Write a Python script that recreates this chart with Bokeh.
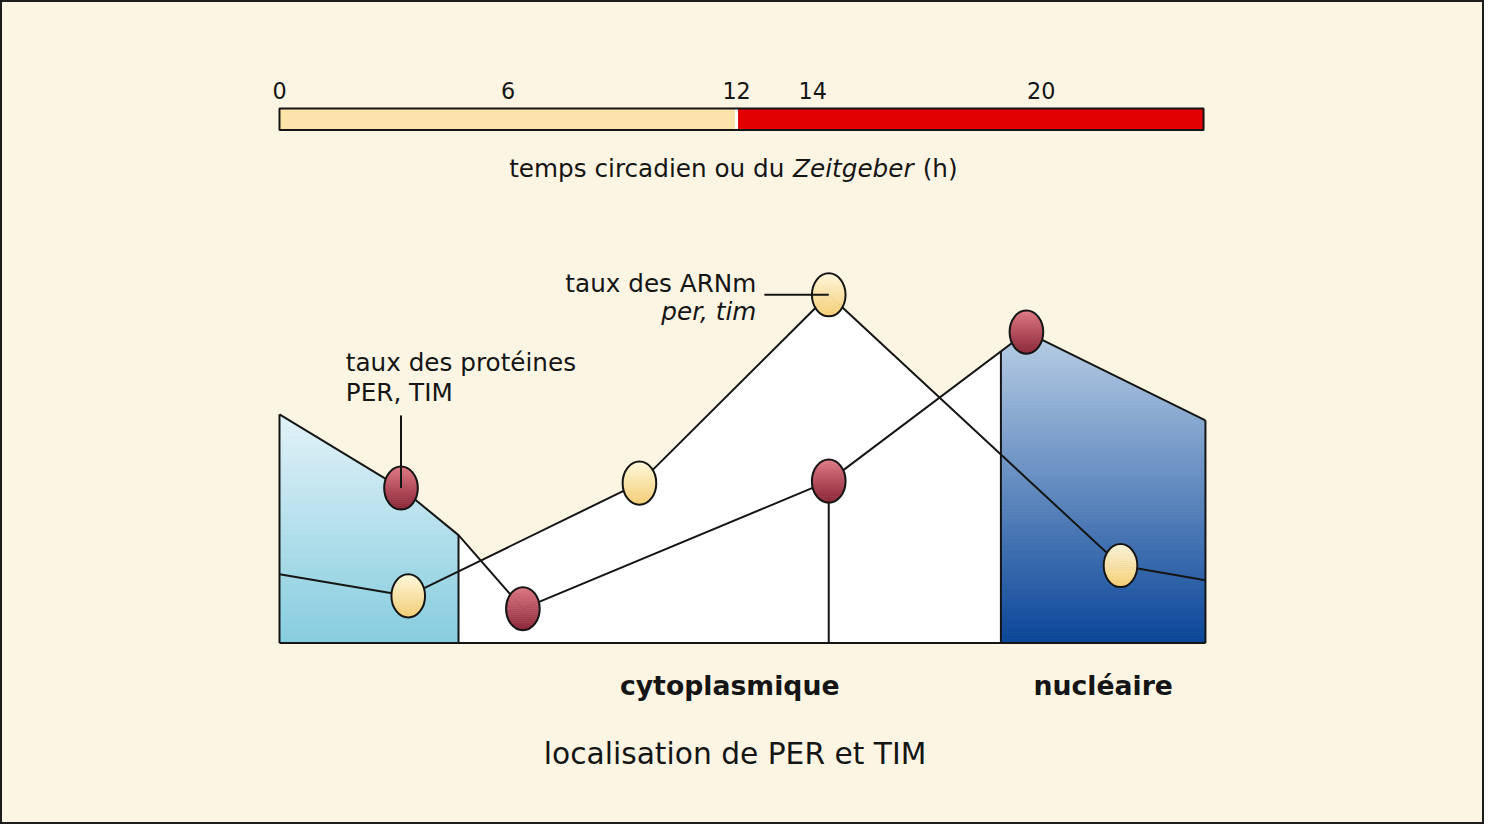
import numpy as np
from bokeh.plotting import figure
from bokeh.models import Range1d
from bokeh.embed import file_html
from bokeh.resources import INLINE
from bokeh.core.properties import value

# ---------------- data ----------------
bar_ticks = [0, 6, 12, 14, 20]
bar_tick_labels = ["0", "6", "12", "14", "20"]
day_span = [0.0, 12.0]
night_span = [12.0, 24.26]

protein_t = [0.0, 3.19, 4.70, 6.39, 14.42, 19.61, 24.31]
protein_level = [23.3, 15.8, 11.0, 3.5, 16.5, 31.7, 22.7]
protein_marker_idx = [1, 3, 4, 5]
mrna_t = [0.0, 3.38, 9.45, 14.42, 22.08, 24.31]
mrna_level = [7.0, 4.8, 16.3, 35.5, 7.9, 6.4]
mrna_marker_idx = [1, 2, 3, 4]

zone_edges = [0.0, 4.70, 18.94, 24.31]
zone_names = ["", "cytoplasmique", "nucléaire"]

# ---------------- styling / layout ----------------
W, H = 1484, 824
SX, SY = W / 1500, H / 840
BG = "#FDF5E3"
INK = "#151515"
FONT = "DejaVu Sans"


def fs(px):
    return "%.1fpx" % (px * SX)


p = figure(width=W, height=H, output_backend="svg", toolbar_location=None,
           x_range=Range1d(-282 / 38.5, (1500 - 282) / 38.5),
           y_range=Range1d(-(840 - 655) / 10.0, 655 / 10.0),
           x_axis_location=None, y_axis_location=None, min_border=0)
p.grid.visible = False
p.background_fill_color = BG
p.border_fill_color = BG
p.outline_line_color = "#1c1c1c"
p.outline_line_width = 3


def hex2rgb(c):
    c = c.lstrip("#")
    return [int(c[i:i + 2], 16) for i in (0, 2, 4)]


def lerp(c0, c1, f):
    a, b = hex2rgb(c0), hex2rgb(c1)
    return "#%02x%02x%02x" % tuple(int(round(a[i] + (b[i] - a[i]) * f)) for i in range(3))


def clip(poly, yc, keep_above):
    out = []
    n = len(poly)
    for i in range(n):
        x1, y1 = poly[i - 1]
        x2, y2 = poly[i]
        in1 = (y1 >= yc) if keep_above else (y1 <= yc)
        in2 = (y2 >= yc) if keep_above else (y2 <= yc)
        if in2:
            if not in1:
                out.append((x1 + (yc - y1) * (x2 - x1) / (y2 - y1), yc))
            out.append((x2, y2))
        elif in1:
            out.append((x1 + (yc - y1) * (x2 - x1) / (y2 - y1), yc))
    return out


def top_at(t):
    return np.maximum(np.interp(t, protein_t, protein_level), np.interp(t, mrna_t, mrna_level))


def region_polygon(t0, t1):
    xs = np.linspace(t0, t1, 500)
    extra = [t for t in protein_t + mrna_t if t0 < t < t1]
    xs = np.unique(np.concatenate([xs, extra]))
    top = top_at(xs)
    return [(t0, 0.0)] + list(zip(xs, top)) + [(t1, 0.0)]


def gradient_region(t0, t1, c_bottom, c_top, n=90):
    poly = region_polygon(t0, t1)
    ymax = max(y for _, y in poly)
    pxs, pys, cols = [], [], []
    for k in range(n):
        y0 = ymax * k / n
        y1 = ymax * (k + 1) / n + 0.05
        band = clip(clip(poly, y0, True), y1, False)
        if len(band) < 3:
            continue
        pxs.append([q[0] for q in band])
        pys.append([q[1] for q in band])
        cols.append(lerp(c_bottom, c_top, (k + 0.5) / n))
    p.patches(pxs, pys, fill_color=cols, line_color=cols, line_width=0.6)


# ---------------- time bar ----------------
BAR_Y0, BAR_Y1 = 52.3, 54.5
p.quad(left=[day_span[0]], right=[day_span[1]], bottom=[BAR_Y0], top=[BAR_Y1],
       fill_color="#FCE3AA", line_color=None)
p.quad(left=[night_span[0]], right=[night_span[1]], bottom=[BAR_Y0], top=[BAR_Y1],
       fill_color="#E20000", line_color=None)
p.segment(x0=[day_span[1]], y0=[BAR_Y0], x1=[day_span[1]], y1=[BAR_Y1],
          line_color="white", line_width=3)
p.quad(left=[day_span[0]], right=[night_span[1]], bottom=[BAR_Y0], top=[BAR_Y1],
       fill_color=None, line_color=INK, line_width=2)
p.text(x=bar_ticks, y=[56.3] * len(bar_ticks), text=bar_tick_labels,
       text_font=value(FONT), text_font_size=fs(22.5), text_color=INK,
       text_align="center", text_baseline="middle")

lab_x = 6.03
p.text(x=[lab_x], y=[48.4], text=["temps circadien ou du"], text_font=value(FONT),
       text_font_size=fs(25), text_color=INK, text_align="left", text_baseline="middle")
p.text(x=[lab_x], y=[48.4], text=["Zeitgeber"], x_offset=[287 * SX], text_font=value(FONT),
       text_font_style="italic", text_font_size=fs(25), text_color=INK,
       text_align="left", text_baseline="middle")
p.text(x=[lab_x], y=[48.4], text=["(h)"], x_offset=[418 * SX], text_font=value(FONT),
       text_font_size=fs(25), text_color=INK, text_align="left", text_baseline="middle")

# ---------------- zones ----------------
gradient_region(zone_edges[0], zone_edges[1], "#86CDDF", "#E2F2F8")
wpoly = region_polygon(zone_edges[1], zone_edges[2])
p.patch([q[0] for q in wpoly], [q[1] for q in wpoly], fill_color="white", line_color=None)
gradient_region(zone_edges[2], zone_edges[3], "#0B4699", "#B9CFE5")

edge_tops = [float(top_at(t)) for t in zone_edges]
p.multi_line([[t, t] for t in zone_edges], [[0, y] for y in edge_tops],
             line_color=INK, line_width=2)
p.line([zone_edges[0], zone_edges[-1]], [0, 0], line_color=INK, line_width=2)
# drop line from the protein point at 14.42 h
p.line([protein_t[4], protein_t[4]], [0, protein_level[4]], line_color=INK, line_width=2)

# series lines
p.line(protein_t, protein_level, line_color=INK, line_width=2)
p.line(mrna_t, mrna_level, line_color=INK, line_width=2)

# ---------------- ellipse markers ----------------
EA, EB = 17 / 38.5, 22 / 10.0


def ellipse_markers(ts, ls, idx, c_bottom, c_top, n=22):
    pxs, pys, cols = [], [], []
    for i in idx:
        cx, cy = ts[i], ls[i]
        for k in range(n):
            v0 = -EB + 2 * EB * k / n
            v1 = min(EB, v0 + 2 * EB / n + 0.03)
            vs = np.linspace(v0, v1, 6)
            hw = EA * np.sqrt(np.clip(1 - (vs / EB) ** 2, 0, 1))
            xs = list(cx - hw) + list((cx + hw)[::-1])
            ys = list(cy + vs) + list((cy + vs)[::-1])
            pxs.append(xs)
            pys.append(ys)
            cols.append(lerp(c_bottom, c_top, (k + 0.5) / n))
    p.patches(pxs, pys, fill_color=cols, line_color=cols, line_width=0.5)
    p.ellipse([ts[i] for i in idx], [ls[i] for i in idx],
              width=2 * EA, height=2 * EB, fill_color=None, line_color=INK, line_width=2)


ellipse_markers(protein_t, protein_level, protein_marker_idx, "#8A2637", "#DE7B86")
ellipse_markers(mrna_t, mrna_level, mrna_marker_idx, "#F4CD74", "#FFF8DC")

# leader lines
p.line([12.73, mrna_t[3]], [mrna_level[3], mrna_level[3]], line_color=INK, line_width=2)
p.line([protein_t[1], protein_t[1]], [23.2, protein_level[1]], line_color=INK, line_width=2)

# ---------------- annotations ----------------
p.text(x=[12.52], y=[36.7], text=["taux des ARNm"], text_font=value(FONT),
       text_font_size=fs(25), text_color=INK, text_align="right", text_baseline="middle")
p.text(x=[12.52], y=[33.8], text=["per, tim"], text_font=value(FONT), text_font_style="italic",
       text_font_size=fs(25), text_color=INK, text_align="right", text_baseline="middle")
p.text(x=[1.74, 1.74], y=[28.6, 25.5], text=["taux des protéines", "PER, TIM"],
       text_font=value(FONT), text_font_size=fs(25), text_color=INK,
       text_align="left", text_baseline="middle")

zx = [(zone_edges[i] + zone_edges[i + 1]) / 2 for i in range(len(zone_names)) if zone_names[i]]
zt = [n for n in zone_names if n]
p.text(x=zx, y=[-4.3] * len(zt), text=zt, text_font=value(FONT), text_font_style="bold",
       text_font_size=fs(27), text_color=INK, text_align="center", text_baseline="middle")
p.text(x=[11.96], y=[-11.3], text=["localisation de PER et TIM"], text_font=value(FONT),
       text_font_size=fs(30), text_color=INK, text_align="center", text_baseline="middle")

open("out.html", "w").write(file_html(p, INLINE))
